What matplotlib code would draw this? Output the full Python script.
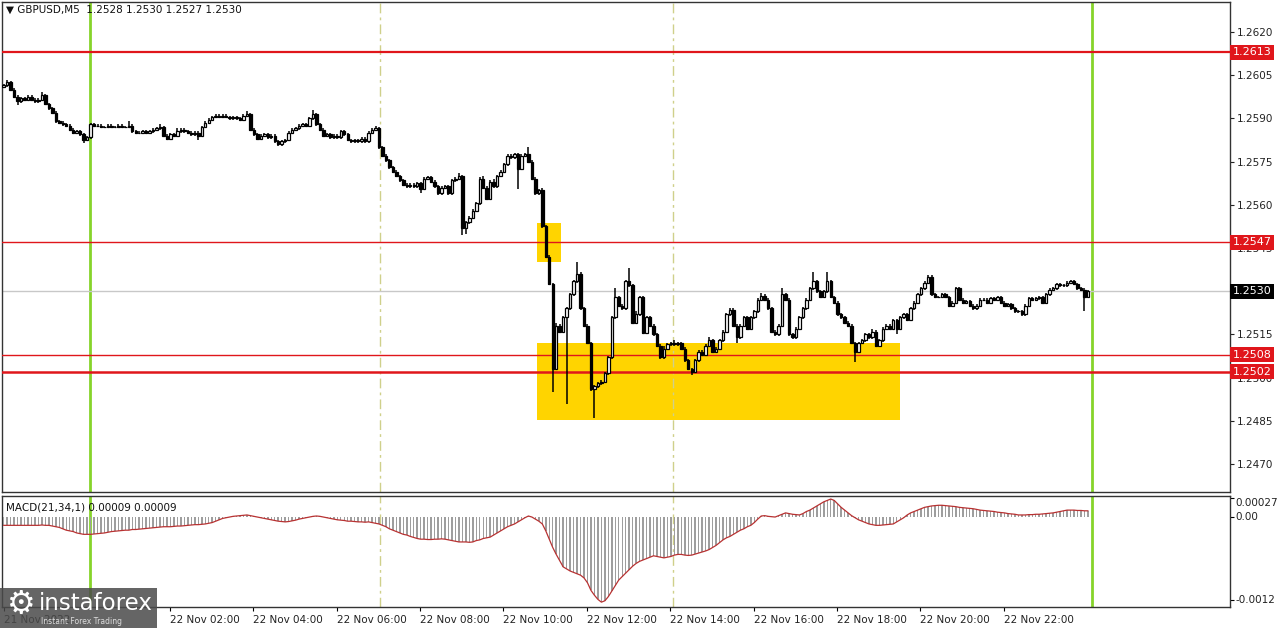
import numpy as np
import matplotlib.pyplot as plt
from matplotlib.patches import Rectangle

W, H = 1280, 628

# GBPUSD M5 bars from 21 Nov 21:55 to 22 Nov 23:55
# prices are given in pips above 1.2500
first_open = 101.0
closes = [
    # 21:55 - 23:55
    101.5, 102.5, 100, 97.5, 96, 97, 96.5, 97.5, 96.5, 96, 96.5, 98, 95,
    93.5, 92, 89, 88.5, 88, 87.5, 86, 85, 85.5, 84.5, 82.5, 83.5,
    88, 87.5, 87.5, 87, 87, 87.5, 87, 87, 87.5, 87, 87, 87.5,            # 00
    85.5, 85, 85, 85.5, 85, 85.5, 86, 86.5, 87, 84, 83, 84.5,            # 01
    84, 85.5, 86, 85.5, 85, 84.5, 85, 84, 87, 88.5, 89.5, 90.5,          # 02
    91, 90.5, 91, 90.5, 90, 90.5, 90, 89.5, 91, 91.5, 86, 84.5,          # 03
    83, 84, 84.5, 83.5, 84, 82, 81, 82, 82.5, 85, 86, 86.5,              # 04
    87.5, 88, 87.5, 90, 91.5, 88, 86, 84, 84.5, 83.5, 84, 83.5,          # 05
    85.5, 84.5, 82.5, 82, 82.5, 82, 83, 82, 85, 86, 86.5, 80,            # 06
    77, 75.5, 73, 71.5, 70, 68.5, 67, 66.5, 67, 66.5, 67.5, 65.5,        # 07
    69, 69.5, 68, 66.5, 64, 66, 66.5, 64, 68.5, 69, 70, 52,              # 08
    54, 55.5, 58, 60.5, 69, 66, 62, 68, 66.5, 70, 71.5, 74,              # 09
    77, 76.5, 77.5, 72.5, 77, 77.5, 75, 69, 64, 65, 52.5, 42,            # 10
    32.5, 3, 18, 16, 21, 24, 29, 33.5, 36, 24, 18, 12,                   # 11
    -4, -3, -2, -1.5, 1.5, 7, 21, 28, 25, 24, 33.5, 32,                  # 12
    19, 22, 28, 15.5, 21, 18, 15, 11, 7, 10, 11.5, 12,                   # 13
    11.5, 12, 10, 6, 3, 2, 6, 9, 8, 11, 13, 9,                           # 14
    10, 13, 16, 22, 23.5, 18, 14, 18, 21, 17, 21, 23,                    # 15
    27, 28.5, 27, 24, 16, 15, 18, 29, 27, 15, 14, 17,                    # 16
    21, 24, 27, 31, 33.5, 30, 28, 30, 33.5, 28, 26, 22,                  # 17
    21, 19, 18, 12, 9, 12, 13, 15, 14, 16, 11, 13,                       # 18
    17, 18, 17, 20, 17, 21, 22, 20, 24, 26, 29, 31,                      # 19
    33, 35, 29, 28, 28, 29, 28, 25, 26, 31, 27, 26,                      # 20
    26.5, 25, 24, 25, 27, 27, 26, 27.5, 27, 28, 26, 25,                  # 21
    25.5, 24, 23, 23, 22, 25, 27.5, 27, 27.5, 28, 26, 29,                # 22
    30.5, 31, 32.5, 32, 32, 33, 33.5, 32.5, 31, 30.5, 28, 30,            # 23
]
up_wick = [
    0.5, 1, 0.5, 0.5, 0.5, 0.5, 0.5, 0.5, 0.5, 0.5, 0.5, 1, 0.5,
    0.5, 0.5, 0.5, 0.5, 0.5, 0.5, 0.5, 0.5, 0.5, 0.5, 0.5, 0.5,
    0.5, 0.5, 0.5, 0.5, 0.5, 0.5, 0.5, 0.5, 0.5, 0.5, 0.5, 1.5,
    0.5, 0.5, 0.5, 0.5, 0.5, 0.5, 0.5, 0.5, 1, 0.5, 0.5, 0.5,
    0.5, 1, 0.5, 0.5, 0.5, 0.5, 0.5, 0.5, 0.5, 0.5, 0.5, 0.5,
    0.5, 0.5, 0.5, 0.5, 0.5, 0.5, 0.5, 0.5, 0.5, 1, 0.5, 0.5,
    0.5, 0.5, 0.5, 0.5, 0.5, 0.5, 0.5, 0.5, 0.5, 0.5, 0.5, 0.5,
    0.5, 0.5, 0.5, 0.5, 1.5, 0.5, 0.5, 0.5, 0.5, 0.5, 0.5, 0.5,
    0.5, 0.5, 0.5, 0.5, 0.5, 0.5, 0.5, 0.5, 0.5, 0.5, 1, 0.5,
    0.5, 0.5, 0.5, 0.5, 0.5, 0.5, 0.5, 0.5, 0.5, 0.5, 0.5, 0.5,
    0.5, 0.5, 0.5, 0.5, 0.5, 0.5, 0.5, 0.5, 0.5, 0.5, 1, 0.5,
    0.5, 0.5, 0.5, 0.5, 0.5, 1, 0.5, 0.5, 1, 0.5, 0.5, 0.5,
    0.5, 0.5, 0.5, 0.5, 0.5, 0.5, 2.5, 0.5, 0.5, 0.5, 1, 0.5,
    0.5, 0.5, 1, 0.5, 0.5, 0.5, 0.5, 0.5, 4, 0.5, 0.5, 0.5,
    0.5, 0.5, 0.5, 0.5, 0.5, 0.5, 0.5, 3, 0.5, 0.5, 0.5, 4.5,
    0.5, 1, 0.5, 0.5, 0.5, 0.5, 0.5, 0.5, 0.5, 1, 0.5, 0.5,
    1, 0.5, 0.5, 0.5, 0.5, 0.5, 0.5, 0.5, 0.5, 0.5, 1, 0.5,
    0.5, 0.5, 0.5, 0.5, 0.5, 0.5, 0.5, 0.5, 0.5, 0.5, 0.5, 0.5,
    0.5, 1, 0.5, 0.5, 0.5, 0.5, 0.5, 2, 0.5, 0.5, 0.5, 0.5,
    0.5, 0.5, 0.5, 0.5, 3, 0.5, 0.5, 0.5, 3.3, 0.5, 0.5, 0.5,
    0.5, 0.5, 0.5, 0.5, 0.5, 0.5, 0.5, 0.5, 0.5, 1, 0.5, 0.5,
    0.5, 0.5, 0.5, 0.5, 0.5, 0.5, 0.5, 0.5, 0.5, 0.5, 0.5, 0.5,
    0.5, 0.5, 0.5, 0.5, 0.5, 0.5, 0.5, 0.5, 0.5, 0.5, 0.5, 0.5,
    0.5, 0.5, 0.5, 0.5, 0.5, 0.5, 0.5, 0.5, 0.5, 0.5, 0.5, 0.5,
    0.5, 0.5, 0.5, 0.5, 0.5, 0.5, 0.5, 0.5, 0.5, 0.5, 0.5, 0.5,
    0.5, 0.5, 0.5, 0.5, 0.5, 0.5, 0.5, 0.5, 0.5, 0.5, 0.5, 0.5,
]
dn_wick = [
    0.5, 0.5, 0.5, 0.5, 1.5, 0.5, 0.5, 0.5, 0.5, 0.5, 0.5, 0.5, 0.5,
    0.5, 0.5, 0.5, 0.5, 0.5, 0.5, 0.5, 0.5, 0.5, 0.5, 1, 0.5,
    0.5, 0.5, 0.5, 0.5, 0.5, 0.5, 0.5, 0.5, 0.5, 0.5, 0.5, 0.5,
    0.5, 0.5, 0.5, 0.5, 0.5, 0.5, 0.5, 0.5, 0.5, 0.5, 0.5, 0.5,
    0.5, 0.5, 0.5, 0.5, 0.5, 0.5, 0.5, 1.5, 0.5, 0.5, 0.5, 0.5,
    0.5, 0.5, 0.5, 0.5, 0.5, 0.5, 0.5, 0.5, 0.5, 0.5, 0.5, 0.5,
    0.5, 0.5, 0.5, 0.5, 0.5, 0.5, 0.5, 0.5, 0.5, 0.5, 0.5, 0.5,
    0.5, 0.5, 0.5, 0.5, 0.5, 0.5, 0.5, 0.5, 0.5, 0.5, 0.5, 0.5,
    0.5, 0.5, 0.5, 0.5, 0.5, 0.5, 0.5, 0.5, 0.5, 0.5, 0.5, 0.5,
    0.5, 0.5, 0.5, 0.5, 0.5, 0.5, 0.5, 0.5, 0.5, 0.5, 0.5, 1.5,
    0.5, 0.5, 0.5, 0.5, 0.5, 0.5, 0.5, 0.5, 0.5, 0.5, 0.5, 2.5,
    2, 0.5, 0.5, 0.5, 0.5, 0.5, 0.5, 0.5, 0.5, 0.5, 0.5, 0.5,
    0.5, 0.5, 0.5, 7, 0.5, 0.5, 0.5, 0.5, 0.5, 0.5, 0.5, 0.5,
    0.5, 8, 0.5, 0.5, 0.5, 30, 0.5, 0.5, 0.5, 0.5, 0.5, 0.5,
    0.5, 10, 0.5, 0.5, 0.5, 0.5, 0.5, 0.5, 0.5, 0.5, 0.5, 0.5,
    0.5, 0.5, 0.5, 0.5, 0.5, 0.5, 0.5, 0.5, 0.5, 0.5, 0.5, 0.5,
    0.5, 0.5, 0.5, 0.5, 0.5, 1, 0.5, 0.5, 0.5, 0.5, 0.5, 0.5,
    0.5, 0.5, 0.5, 0.5, 0.5, 0.5, 2, 0.5, 0.5, 0.5, 0.5, 0.5,
    0.5, 0.5, 0.5, 0.5, 0.5, 0.5, 0.5, 0.5, 0.5, 0.5, 0.5, 0.5,
    0.5, 0.5, 0.5, 0.5, 0.5, 0.5, 0.5, 0.5, 0.5, 0.5, 0.5, 0.5,
    0.5, 0.5, 0.5, 0.5, 3.5, 0.5, 0.5, 0.5, 0.5, 0.5, 0.5, 0.5,
    0.5, 0.5, 0.5, 0.5, 2, 0.5, 0.5, 0.5, 0.5, 0.5, 0.5, 0.5,
    0.5, 0.5, 0.5, 0.5, 0.5, 0.5, 0.5, 0.5, 0.5, 0.5, 0.5, 0.5,
    0.5, 0.5, 0.5, 0.5, 0.5, 0.5, 0.5, 0.5, 0.5, 0.5, 0.5, 0.5,
    0.5, 0.5, 0.5, 0.5, 0.5, 0.5, 0.5, 0.5, 0.5, 0.5, 0.5, 0.5,
    0.5, 0.5, 0.5, 0.5, 0.5, 0.5, 0.5, 0.5, 0.5, 0.5, 5, 0.5,
]
# MACD(21,34,1) main line, in units of 0.00001
macd = [
    -12, -12, -12, -12, -12, -12, -12, -12, -12, -12, -12, -11.5,
    -12, -12, -13, -14, -15, -17, -19, -20, -21, -23, -24, -25, -25, -25,
    -24.5, -24, -23.5, -23, -22, -21, -20.5, -20, -19.5,
    -19, -19, -18, -18, -17.5, -17, -16.5, -16, -15.5, -15, -14.5, -14,
    -14, -14, -13.5, -13, -13, -12.5, -12, -11.5, -11, -11, -10.5, -10,
    -9, -8, -6, -4, -2, -1, 0, 1, 1.5, 2, 2.5, 3,
    2, 1, 0, -1, -2, -3, -4, -5, -6, -6.5, -7,
    -6.5, -5.5, -4.5, -3, -2, -1, 0, 1, 1.5,
    1, 0, -1, -2, -3, -4, -4.5, -5, -6,
    -6, -6.5, -7, -7, -7.5, -7, -8, -9, -10,
    -12, -14, -17, -19, -21, -23, -25, -26, -28, -29.5, -31, -32,
    -32, -32.5, -32.5, -32, -32, -31.5, -32, -33,
    -34, -35, -36, -36, -36, -36.5, -36,
    -34, -33, -31, -30, -29,
    -26, -23, -20, -17, -14, -12, -10,
    -7, -4, -1, 1.5,
    0, -3, -6, -10,
    -20, -32, -44, -54, -63, -72,
    -75, -78, -80, -82, -84,
    -88, -95, -106, -113, -119, -123,
    -121, -115, -107, -99, -91,
    -86, -81, -76, -71, -67, -64,
    -62, -60, -58, -56, -57, -58, -59,
    -58, -57, -55, -54, -54, -55, -55.5, -55,
    -53.5, -52, -50.5, -49,
    -47, -44, -41, -37, -33,
    -30, -28, -25, -22,
    -19, -17, -14, -12,
    -8, -3, 1.5,
    2, 1, 0.5, 0,
    2, 4, 6,
    5, 4, 3.5, 3,
    5, 8, 10, 13,
    16, 19, 22, 24, 26,
    24, 19, 14, 10,
    6, 2, -1, -4,
    -6, -8, -10, -11, -12,
    -12, -11.5, -11, -10.5, -10,
    -7, -4, -1, 3,
    6, 8, 10, 12, 14,
    15, 16, 16.5, 17, 17,
    16.5, 16, 15.5, 15, 14,
    13.5, 13, 12.5, 12, 11, 10,
    9.5, 9, 8.5, 8, 7,
    6.5, 6, 5, 4.5, 4, 3,
    3, 3, 3.5, 3.5, 4, 4,
    4.5, 5, 5.5, 6, 7,
    8, 9, 10,
    10, 10, 9.5, 9.5, 9, 9,
]
tick_hours = [2, 4, 6, 8, 10, 12, 14, 16, 18, 20, 22]
price_ticks = [1.2470, 1.2485, 1.2500, 1.2515, 1.2530, 1.2545, 1.2560,
               1.2575, 1.2590, 1.2605, 1.2620]
red_levels = [1.2613, 1.2547, 1.2508, 1.2502]
red_widths = [1.6, 1.0, 1.0, 1.8]
last_price = 1.2530

BASE = 1.25
PIP = 0.0001
n = len(closes)
x = np.arange(n)
c = BASE + np.array(closes) * PIP
o = np.r_[BASE + first_open * PIP, c[:-1]]
hi = np.maximum(o, c) + np.array(up_wick) * PIP
lo = np.minimum(o, c) - np.array(dn_wick) * PIP


def box(x0, y0, x1, y1):
    return [x0 / W, 1 - y1 / H, (x1 - x0) / W, (y1 - y0) / H]


plt.rcParams['font.family'] = 'DejaVu Sans'
fig = plt.figure(figsize=(12.8, 6.28), dpi=100)
ax = fig.add_axes(box(2, 2, 1230, 492))
axm = fig.add_axes(box(2, 496, 1230, 607))

xmin, xmax = -0.49, 352.9
ax.set_xlim(xmin, xmax)
ax.set_ylim(1.246028, 1.263042)

# yellow zones (background)
ax.add_patch(Rectangle((153.5, BASE + 40.1 * PIP), 6.9, 13.6 * PIP,
                       facecolor='#ffd400', edgecolor='none', zorder=1))
ax.add_patch(Rectangle((153.5, BASE - 14.7 * PIP), 104.4, 26.7 * PIP,
                       facecolor='#ffd400', edgecolor='none', zorder=1))

# day / session separators
for ax_ in (ax, axm):
    for v in (24.8, 313.2):
        ax_.axvline(v, color='#86d42a', lw=2, zorder=2)
    for v in (108.3, 192.6):
        ax_.axvline(v, color='#cfd08a', lw=1, dashes=(7, 3, 2, 3), zorder=2)

ax.axhline(last_price, color='#c8c8c8', lw=1, zorder=2)
for lvl, lw in zip(red_levels, red_widths):
    ax.axhline(lvl, color='#e0161b', lw=lw, zorder=4)

# candles
bull = c >= o
ax.vlines(x, lo, hi, color='black', lw=1.1, zorder=5)
body_lo = np.minimum(o, c)
body_h = np.maximum(np.abs(c - o), 0.02 * PIP)
ax.bar(x[bull], body_h[bull], bottom=body_lo[bull], width=0.7,
       facecolor='white', edgecolor='black', lw=0.9, zorder=6)
ax.bar(x[~bull], body_h[~bull], bottom=body_lo[~bull], width=0.7,
       facecolor='black', edgecolor='black', lw=0.9, zorder=6)

# price axis (1.2530 label sits under the black price box)
ax.yaxis.tick_right()
ax.set_yticks(price_ticks)
ax.set_yticklabels(['' if abs(t - last_price) < 1e-6 else '%.4f' % t
                    for t in price_ticks])
ax.tick_params(axis='y', length=3, width=0.8, pad=2, labelsize=7.5,
               colors='#222222')
ax.set_xticks([])
for s in ax.spines.values():
    s.set_color('#333333')
    s.set_linewidth(1)

for lvl in red_levels:
    ax.annotate('%.4f' % lvl, xy=(1.0, lvl), xycoords=('axes fraction', 'data'),
                xytext=(2, 0), textcoords='offset points', va='center',
                ha='left', color='white', fontsize=8, zorder=10,
                bbox=dict(boxstyle='square,pad=0.22', fc='#e0161b', ec='none'),
                annotation_clip=False)
ax.annotate('%.4f' % last_price, xy=(1.0, last_price),
            xycoords=('axes fraction', 'data'), xytext=(2, 0),
            textcoords='offset points', va='center', ha='left', color='white',
            fontsize=8, zorder=10,
            bbox=dict(boxstyle='square,pad=0.22', fc='black', ec='none'),
            annotation_clip=False)

fig.text(6 / W, 1 - 10 / H, '\u25bc GBPUSD,M5  1.2528 1.2530 1.2527 1.2530',
         fontsize=7.5, va='center', ha='left', color='#111111')

# MACD pane
mv = np.array(macd) * 1e-5
xm = np.arange(len(mv))
axm.set_xlim(xmin, xmax)
axm.set_ylim(-0.0013, 0.000304)
axm.bar(xm, mv, width=0.42, color='#9e9e9e', zorder=3)
axm.plot(xm, mv, color='#b83232', lw=0.9, zorder=4)
axm.yaxis.tick_right()
axm.set_yticks([0.00027, 0.0, -0.0012])
axm.set_yticklabels([])
axm.tick_params(axis='y', length=3, width=0.8)
for val, lab, va in [(0.00027, '0.00027', 'top'), (0.0, '0.00', 'center'),
                     (-0.0012, '-0.0012', 'center')]:
    axm.annotate(lab, xy=(1.0, val), xycoords=('axes fraction', 'data'),
                 xytext=(4, 0), textcoords='offset points', va=va, ha='left',
                 fontsize=7.5, color='#222222', annotation_clip=False)
for s in axm.spines.values():
    s.set_color('#333333')
    s.set_linewidth(1)
axm.text(0.003, 0.9, 'MACD(21,34,1) 0.00009 0.00009', transform=axm.transAxes,
         fontsize=7.5, va='center', ha='left', color='#111111')

tpos = [25 + 12 * h - 1.2 for h in tick_hours]
axm.set_xticks([0] + tpos)
axm.set_xticklabels(['21 Nov 2022'] + ['22 Nov %02d:00' % h for h in tick_hours],
                    ha='left', fontsize=7.5, color='#222222')
axm.tick_params(axis='x', length=3, width=0.8, pad=3)

# watermark
fig.patches.append(Rectangle((0, 0), 157 / W, 40 / H, transform=fig.transFigure,
                             facecolor='#4a4a4a', alpha=0.85, edgecolor='none',
                             zorder=20))
fig.text(21 / W, 1 - 605 / H, '\u2699', fontsize=23, color='white',
         ha='center', va='center', zorder=21)
fig.text(39 / W, 1 - 603 / H, 'instaforex', fontsize=16.5, color='white',
         ha='left', va='center', zorder=21)
fig.text(41 / W, 1 - 621 / H, 'Instant Forex Trading', fontsize=5.5,
         color='#dddddd', ha='left', va='center', zorder=21)

fig.savefig('out.png', dpi=100)
